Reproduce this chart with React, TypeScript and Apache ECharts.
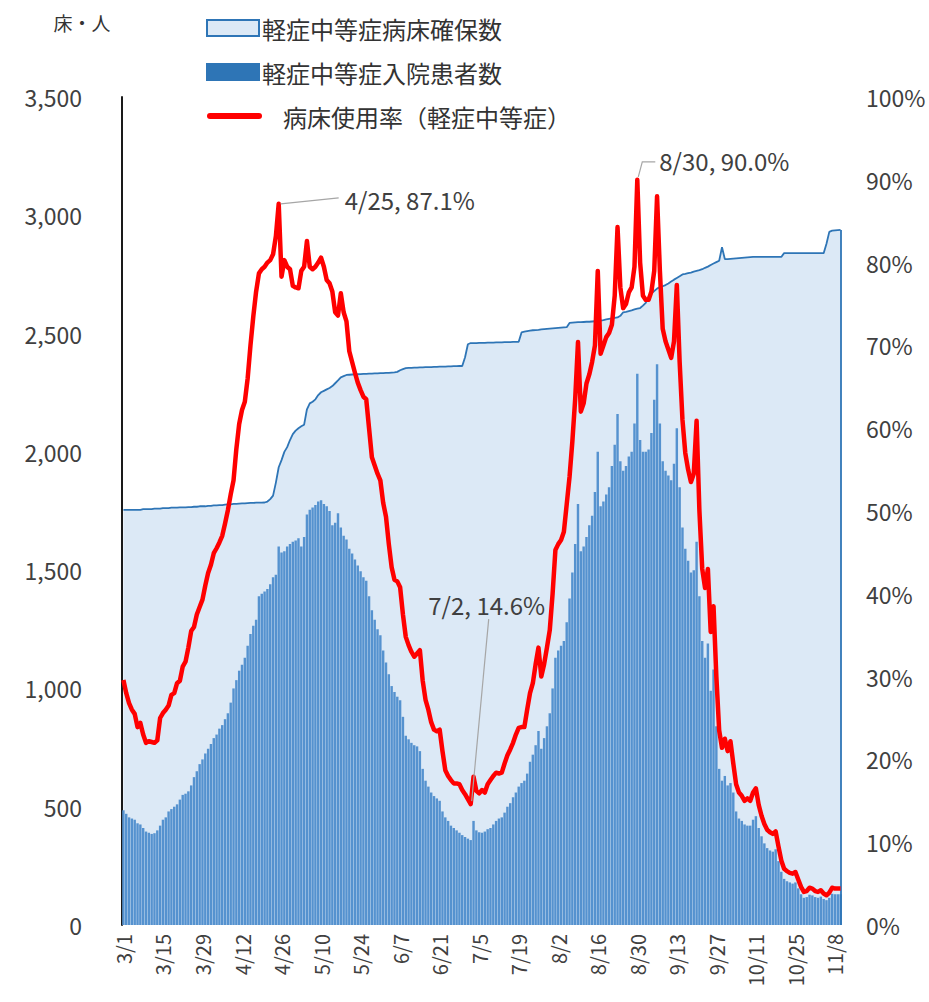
import React, { useEffect, useRef } from "react";
import * as echarts from "echarts";

// months covered: [month, firstDay, lastDay]
const monthSpans: [number, number, number][] = [
  [3, 1, 31], [4, 1, 30], [5, 1, 31], [6, 1, 30], [7, 1, 31],
  [8, 1, 31], [9, 1, 30], [10, 1, 31], [11, 1, 10],
];
const categories: string[] = [];
monthSpans.forEach(([m, a, b]) => {
  for (let d = a; d <= b; d++) categories.push(`${m}/${d}`);
});

const capName = "軽症中等症病床確保数";
const patName = "軽症中等症入院患者数";
const rateName = "病床使用率（軽症中等症）";
const unitLabel = "床・人";

// 軽症中等症病床確保数 (beds)
const capacity: number[] = [
  1755, 1755, 1755, 1755, 1755, 1755, 1755, 1758, 1758, 1758,
  1758, 1760, 1760, 1760, 1762, 1762, 1762, 1764, 1764, 1764,
  1765, 1765, 1765, 1766, 1766, 1768, 1768, 1770, 1770, 1770,
  1772, 1772, 1774, 1774, 1775, 1775, 1777, 1778, 1778, 1780,
  1780, 1781, 1782, 1782, 1783, 1784, 1784, 1785, 1785, 1785,
  1786, 1790, 1800, 1815, 1870, 1935, 1965, 2000, 2020, 2050,
  2075, 2090, 2100, 2108, 2115, 2180, 2205, 2212, 2222, 2240,
  2252, 2258, 2264, 2270, 2278, 2290, 2302, 2315, 2320, 2325,
  2326, 2327, 2328, 2328, 2329, 2330, 2330, 2331, 2331, 2332,
  2332, 2333, 2333, 2334, 2334, 2335, 2336, 2338, 2345, 2350,
  2354, 2355, 2355, 2356, 2356, 2357, 2357, 2358, 2358, 2358,
  2359, 2359, 2360, 2360, 2360, 2361, 2361, 2362, 2362, 2363,
  2363, 2400, 2455, 2460, 2460, 2460, 2461, 2461, 2461, 2462,
  2462, 2462, 2463, 2463, 2463, 2464, 2464, 2464, 2465, 2465,
  2465, 2505, 2508, 2510, 2512, 2514, 2515, 2516, 2518, 2519,
  2520, 2521, 2522, 2523, 2524, 2525, 2526, 2527, 2545, 2546,
  2547, 2548, 2548, 2549, 2550, 2550, 2551, 2552, 2553, 2555,
  2557, 2560, 2562, 2564, 2566, 2568, 2575, 2590, 2592, 2595,
  2598, 2602, 2605, 2608, 2618, 2630, 2655, 2670, 2680, 2690,
  2697, 2700, 2705, 2712, 2720, 2728, 2735, 2742, 2750, 2752,
  2755, 2758, 2762, 2765, 2768, 2772, 2778, 2783, 2790, 2796,
  2802, 2808, 2865, 2815, 2815, 2816, 2817, 2818, 2819, 2820,
  2821, 2822, 2823, 2824, 2824, 2824, 2824, 2824, 2824, 2824,
  2824, 2824, 2824, 2824, 2840, 2840, 2840, 2840, 2840, 2840,
  2840, 2840, 2840, 2840, 2840, 2840, 2840, 2840, 2840, 2880,
  2930, 2935, 2936, 2937, 2938,
];

// 軽症中等症入院患者数 (people)
const patients: number[] = [
  485, 470, 455, 450, 445, 430, 425, 410, 395, 390,
  385, 388, 400, 420, 445, 455, 480, 490, 500, 510,
  530, 550, 555, 565, 590, 625, 650, 680, 700, 725,
  745, 765, 790, 805, 830, 845, 870, 895, 940, 1000,
  1035, 1075, 1100, 1130, 1180, 1230, 1265, 1290, 1390, 1400,
  1410, 1420, 1440, 1470, 1480, 1600, 1575, 1580, 1600, 1610,
  1620, 1625, 1635, 1600, 1640, 1735, 1755, 1765, 1775, 1790,
  1795, 1780, 1770, 1750, 1690, 1700, 1740, 1680, 1645, 1630,
  1590, 1570, 1545, 1520, 1495, 1470, 1455, 1390, 1330, 1290,
  1250, 1225, 1160, 1110, 1060, 1010, 985, 965, 950, 880,
  800, 785, 770, 760, 755, 735, 660, 610, 585, 560,
  545, 535, 525, 480, 455, 440, 420, 410, 400, 390,
  380, 372, 365, 359, 440, 400, 392, 390, 395, 405,
  410, 425, 440, 450, 455, 475, 500, 515, 540, 560,
  585, 600, 610, 640, 690, 720, 760, 820, 745, 790,
  840, 895, 1000, 1130, 1160, 1180, 1200, 1280, 1380, 1490,
  1610, 1780, 1580, 1600, 1640, 1690, 1730, 1830, 2000, 1770,
  1790, 1820, 1850, 1940, 2030, 2160, 1960, 1920, 1940, 1980,
  2000, 2120, 2330, 2050, 2000, 2000, 2010, 2080, 2220, 2370,
  2120, 1960, 1920, 1900, 1880, 1950, 2100, 1850, 1680, 1590,
  1540, 1490, 1500, 1620, 1390, 1200, 1130, 1190, 990, 1080,
  840, 660, 610, 630, 590, 600, 560, 480, 450, 440,
  425, 420, 420, 445, 460, 410, 375, 345, 325, 315,
  310, 320, 270, 225, 195, 185, 180, 175, 180, 155,
  130, 115, 118, 128, 125, 118, 115, 120, 110, 105,
  115, 132, 130, 130, 130,
];

// 病床使用率（軽症中等症） (%)
const usageRate: number[] = [
  29.6, 28.0, 26.8, 26.0, 25.5, 23.9, 24.4, 23.0, 22.0, 22.2,
  22.1, 22.0, 22.3, 25.0, 25.6, 26.0, 26.5, 27.8, 28.0, 29.2,
  29.5, 31.2, 31.8, 33.5, 35.5, 36.0, 37.5, 38.4, 39.3, 41.0,
  42.5, 43.5, 44.9, 45.5, 46.2, 47.0, 48.5, 50.1, 52.0, 53.7,
  57.5, 60.5, 62.2, 63.2, 66.0, 70.0, 73.5, 76.5, 78.7, 79.2,
  79.5, 80.0, 80.3, 81.0, 83.2, 87.1, 78.3, 80.3, 79.5, 79.2,
  77.2, 77.0, 76.9, 79.0, 79.5, 82.6, 79.5, 79.2, 79.5, 80.0,
  80.6, 79.5, 77.9, 77.5, 76.5, 74.0, 73.6, 76.3, 74.0, 72.9,
  69.3, 68.0, 66.7, 65.5, 64.6, 63.8, 63.5, 60.0, 56.5, 55.5,
  54.5, 53.7, 51.0, 49.3, 46.0, 43.2, 41.7, 41.5, 40.8, 37.5,
  34.8, 33.8, 33.0, 32.4, 32.8, 33.2, 29.5, 27.2, 26.0, 24.5,
  23.6, 23.4, 23.6, 21.0, 18.7, 18.0, 17.5, 17.1, 17.1, 17.0,
  16.3, 15.8, 15.2, 14.6, 17.9, 16.2, 15.9, 16.3, 16.0, 17.0,
  17.5, 18.0, 18.4, 18.3, 18.4, 19.5, 20.5, 21.2, 22.0, 23.0,
  23.8, 23.9, 23.9, 26.0, 28.0, 29.2, 31.5, 33.5, 30.0, 31.5,
  33.5, 35.6, 40.0, 45.3, 46.0, 46.5, 47.5, 50.8, 54.1, 58.4,
  63.5, 70.4, 62.0, 63.0, 65.4, 66.5, 68.0, 70.0, 79.0, 69.0,
  70.0, 71.0, 71.5, 72.5, 76.0, 84.3, 77.0, 74.5, 75.0, 76.4,
  77.0, 79.5, 90.0, 80.0, 76.0, 75.5, 75.5, 76.5, 79.0, 88.0,
  79.0, 72.0, 70.5, 69.5, 68.5, 70.5, 77.3, 68.0, 61.0, 57.0,
  55.0, 53.5, 54.5, 60.9, 50.0, 43.0, 40.7, 43.0, 35.4, 38.5,
  30.0, 23.5, 21.4, 22.5, 21.0, 22.2, 19.5, 17.0, 16.0, 15.6,
  15.0, 15.3, 15.0, 16.0, 16.5, 14.5, 13.2, 12.2, 11.5, 11.2,
  11.0, 11.3, 9.5, 7.8, 6.8, 6.5, 6.3, 6.2, 6.4, 5.5,
  4.6, 4.0, 4.1, 4.5, 4.4, 4.1, 4.0, 4.2, 3.8, 3.6,
  3.9, 4.5, 4.4, 4.4, 4.4,
];

// annotated points of the usage-rate line
const annotations = [
  { date: "4/25", text: "4/25, 87.1%", kind: "right" },
  { date: "8/30", text: "8/30, 90.0%", kind: "up" },
  { date: "7/2", text: "7/2, 14.6%", kind: "above" },
];

const FONT = '"Noto Sans CJK JP", "Noto Sans", sans-serif';
const TEXT = "#404040";

export default function App() {
  const ref = useRef<HTMLDivElement>(null);

  useEffect(() => {
    if (!ref.current) return;
    const chart = echarts.init(ref.current, null, { renderer: "svg" });
    const last = categories.length - 1;

    const legendGraphics: any[] = [
      { type: "rect", shape: { x: 207, y: 20, width: 52, height: 16 },
        style: { fill: "#dce9f6", stroke: "#2e75b6", lineWidth: 2 } },
      { type: "text", x: 262, y: 28,
        style: { text: capName, fontSize: 24, fontFamily: FONT, fill: "#333", align: "left", verticalAlign: "middle" } },
      { type: "rect", shape: { x: 206, y: 63, width: 54, height: 18 },
        style: { fill: "#2e75b6" } },
      { type: "text", x: 262, y: 72,
        style: { text: patName, fontSize: 24, fontFamily: FONT, fill: "#333", align: "left", verticalAlign: "middle" } },
      { type: "line", shape: { x1: 210, y1: 116, x2: 259, y2: 116 },
        style: { stroke: "#ff0000", lineWidth: 6, lineCap: "round" } },
      { type: "text", x: 283, y: 116,
        style: { text: rateName, fontSize: 24, fontFamily: FONT, fill: "#333", align: "left", verticalAlign: "middle" } },
      { type: "text", x: 82, y: 22,
        style: { text: unitLabel, fontSize: 19, fontFamily: FONT, fill: "#333", align: "center", verticalAlign: "middle" } },
    ];

    chart.setOption({
      animation: false,
      grid: { left: 122, right: 87, top: 97, bottom: 77, containLabel: false },
      xAxis: {
        type: "category",
        data: categories,
        boundaryGap: true,
        axisLine: { show: false },
        axisTick: { show: false },
        axisLabel: {
          interval: 13, rotate: 90, fontSize: 20, color: TEXT, margin: 9, fontFamily: FONT,
        },
      },
      yAxis: [
        {
          type: "value", min: 0, max: 3500, interval: 500,
          axisLine: { show: true, lineStyle: { color: "#1a1a1a", width: 2 } },
          axisTick: { show: false },
          splitLine: { show: false },
          axisLabel: {
            formatter: (v: number) => v.toLocaleString("en-US"),
            fontSize: 23, color: TEXT, margin: 40, fontFamily: FONT,
          },
        },
        {
          type: "value", min: 0, max: 100, interval: 10, position: "right",
          axisLine: { show: false },
          axisTick: { show: false },
          splitLine: { show: false },
          axisLabel: { formatter: "{value}%", fontSize: 23, color: TEXT, margin: 24, fontFamily: FONT },
        },
      ],
      series: [
        {
          name: capName, type: "line", yAxisIndex: 0, data: capacity,
          symbol: "none", lineStyle: { color: "#2e75b6", width: 1.8 },
          areaStyle: { color: "#dce9f6", opacity: 1 },
          z: 1,
          markLine: {
            silent: true, symbol: ["none", "none"], label: { show: false },
            lineStyle: { color: "#2e75b6", width: 1.8, type: "solid" },
            data: [[{ coord: [categories[last], capacity[last]] }, { coord: [categories[last], 0] }]],
          },
        },
        {
          name: patName, type: "bar", yAxisIndex: 0, data: patients,
          barCategoryGap: "14%", itemStyle: { color: "#5592cf" }, z: 2,
        },
        {
          name: rateName, type: "line", yAxisIndex: 1, data: usageRate,
          symbol: "none", lineStyle: { color: "#ff0000", width: 4.5, join: "round" }, z: 5,
        },
      ],
      graphic: legendGraphics,
    });

    const annGraphics: any[] = [];
    annotations.forEach((a) => {
      const i = categories.indexOf(a.date);
      const p = chart.convertToPixel({ seriesIndex: 2 }, [i, usageRate[i]]) as number[];
      const [x, y] = p;
      const lineStyle = { stroke: "#a6a6a6", lineWidth: 1.2 };
      const ts = { fontSize: 24, fontFamily: FONT, fill: TEXT };
      if (a.kind === "right") {
        annGraphics.push({ type: "line", shape: { x1: x + 2, y1: y, x2: x + 60, y2: y - 6 }, style: lineStyle, z: 10 });
        annGraphics.push({ type: "text", x: x + 66, y: y - 4, z: 10,
          style: { ...ts, text: a.text, align: "left", verticalAlign: "middle" } });
      } else if (a.kind === "up") {
        annGraphics.push({ type: "polyline", shape: { points: [[x + 1, y - 3], [x + 5, y - 18], [x + 18, y - 18]] }, style: lineStyle, z: 10 });
        annGraphics.push({ type: "text", x: x + 22, y: y - 19, z: 10,
          style: { ...ts, text: a.text, align: "left", verticalAlign: "middle" } });
      } else {
        annGraphics.push({ type: "line", shape: { x1: x + 1, y1: y - 3, x2: x + 18, y2: y - 185 }, style: lineStyle, z: 10 });
        annGraphics.push({ type: "text", x: x + 16, y: y - 200, z: 10,
          style: { ...ts, text: a.text, align: "center", verticalAlign: "middle" } });
      }
    });
    chart.setOption({ graphic: [...legendGraphics, ...annGraphics] });

    return () => chart.dispose();
  }, []);

  return (
    <div
      ref={ref}
      style={{ position: "absolute", left: 0, top: 0, width: 929, height: 1002, background: "#fff" }}
    />
  );
}
